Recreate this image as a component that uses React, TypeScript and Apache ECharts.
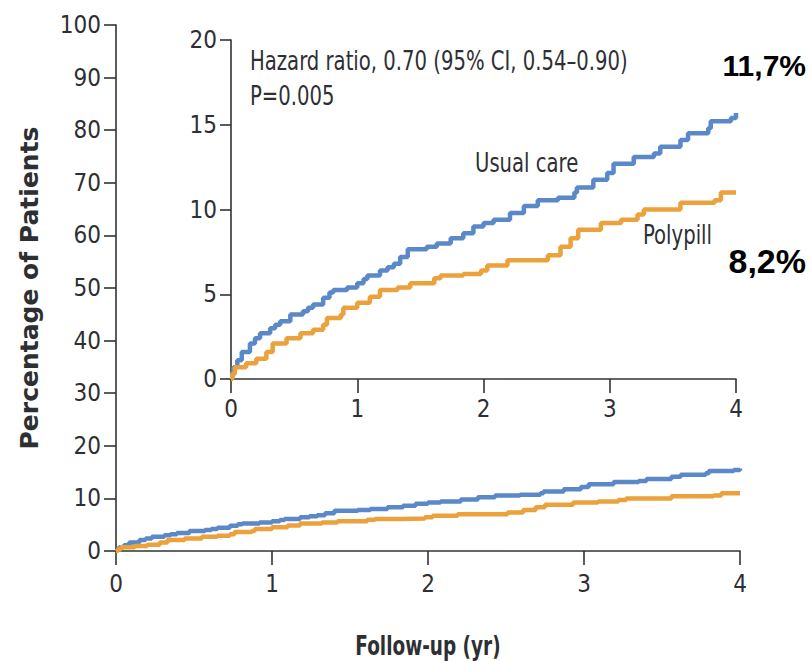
import React, { useEffect, useRef } from "react";
import * as echarts from "echarts";

// Cumulative incidence (%) by follow-up year, Kaplan-Meier style steps
const usualCareYears = [
  0, 0.01, 0.02, 0.05, 0.085, 0.15, 0.19, 0.23, 0.31, 0.35, 0.39, 0.47, 0.57, 0.61,
  0.65, 0.73, 0.78, 0.81, 0.92, 1.0, 1.05, 1.08, 1.18, 1.24, 1.29, 1.34, 1.4, 1.55,
  1.63, 1.74, 1.84, 1.92, 2.0, 2.08, 2.21, 2.32, 2.43, 2.59, 2.72, 2.74, 2.87, 2.98,
  3.03, 3.19, 3.35, 3.4, 3.56, 3.62, 3.78, 3.8, 3.96, 4.0,
];
const usualCareRates = [
  0, 0.4, 0.7, 1.1, 1.6, 2.1, 2.4, 2.7, 3.0, 3.2, 3.4, 3.8, 4.0, 4.2,
  4.4, 4.8, 5.1, 5.25, 5.4, 5.65, 5.9, 6.1, 6.4, 6.6, 6.8, 7.2, 7.65, 7.8,
  8.0, 8.3, 8.6, 9.0, 9.2, 9.4, 9.8, 10.2, 10.55, 10.7, 11.0, 11.3, 11.75, 12.15,
  12.7, 13.1, 13.3, 13.7, 14.1, 14.5, 14.8, 15.2, 15.4, 15.7,
];

const polypillYears = [
  0, 0.01, 0.03, 0.12, 0.2, 0.28, 0.33, 0.44, 0.55, 0.65, 0.73, 0.76, 0.87, 0.89,
  1.0, 1.1, 1.18, 1.32, 1.42, 1.61, 1.66, 1.84, 1.98, 2.03, 2.19, 2.51, 2.61, 2.69,
  2.75, 2.93, 3.09, 3.22, 3.27, 3.56, 3.83, 3.88, 4.0,
];
const polypillRates = [
  0, 0.3, 0.7, 0.93, 1.2, 1.6, 2.1, 2.4, 2.7, 2.9, 3.2, 3.6, 3.8, 4.2,
  4.5, 4.85, 5.25, 5.4, 5.65, 5.95, 6.1, 6.2, 6.4, 6.7, 7.0, 7.3, 7.8, 8.3,
  8.8, 9.2, 9.4, 9.7, 10.0, 10.4, 10.55, 11.0, 11.0,
];

const mainYTicks = { min: 0, max: 100, interval: 10 };
const insetYTicks = { min: 0, max: 20, interval: 5 };
const yearAxis = { min: 0, max: 4, interval: 1 };

const xAxisTitle = "Follow-up (yr)";
const yAxisTitle = "Percentage of Patients";
const hazardText = "Hazard ratio, 0.70 (95% CI, 0.54\u20130.90)";
const pValueText = "P=0.005";
const usualCareLabel = "Usual care";
const polypillLabel = "Polypill";
const usualCareRateLabel = "11,7%";
const polypillRateLabel = "8,2%";

const BLUE = "#5b88c8";
const ORANGE = "#eba13c";
const AXIS = "#333333";
const TEXT = "#2e2f33";
const NARROW = "'DejaVu Sans Condensed', 'Liberation Sans', sans-serif";
const SQUEEZE = 0.84;

const pairs = (xs: number[], ys: number[]) => xs.map((x, i) => [x, ys[i]]);

export default function App() {
  const ref = useRef<HTMLDivElement>(null);

  useEffect(() => {
    if (!ref.current) return;
    const chart = echarts.init(ref.current, undefined, { renderer: "svg" });

    const axisLine = { show: true, lineStyle: { color: AXIS, width: 1.6 } };
    const tickStyle = { color: AXIS, width: 1.6 };
    const labelStyle = { color: TEXT, fontFamily: NARROW, fontSize: 24 };

    const xAxisBase = (gridIndex: number, tickLen: number, margin: number) => ({
      type: "value" as const,
      gridIndex,
      ...yearAxis,
      axisLine,
      axisTick: { show: true, length: tickLen, lineStyle: tickStyle },
      axisLabel: { ...labelStyle, margin },
      splitLine: { show: false },
    });

    const yAxisBase = (gridIndex: number, ticks: any, tickLen: number, margin: number) => ({
      type: "value" as const,
      gridIndex,
      ...ticks,
      axisLine,
      axisTick: { show: true, length: tickLen, lineStyle: tickStyle },
      axisLabel: { ...labelStyle, margin },
      splitLine: { show: false },
    });

    const stepSeries = (name: string, data: number[][], color: string, idx: number) => ({
      name,
      type: "line" as const,
      step: "end" as const,
      xAxisIndex: idx,
      yAxisIndex: idx,
      data,
      symbol: "none",
      lineStyle: { color, width: 4.5 },
      itemStyle: { color },
    });

    const note = (text: string, x: number, y: number, scaleX = SQUEEZE, extra: any = {}) => ({
      type: "text",
      x,
      y,
      scaleX,
      style: {
        text,
        fill: TEXT,
        font: `26px ${NARROW}`,
        textVerticalAlign: "middle",
        ...extra,
      },
    });

    const usual = pairs(usualCareYears, usualCareRates);
    const poly = pairs(polypillYears, polypillRates);

    chart.setOption({
      animation: false,
      backgroundColor: "#ffffff",
      grid: [
        { left: 116, right: 72, top: 25, bottom: 110 },
        { left: 231, right: 76, top: 40, bottom: 282 },
      ],
      xAxis: [xAxisBase(0, 14, 21), xAxisBase(1, 14, 18)],
      yAxis: [
        {
          ...yAxisBase(0, mainYTicks, 12, 15),
          name: yAxisTitle,
          nameLocation: "middle",
          nameGap: 74,
          nameTextStyle: {
            color: TEXT,
            fontFamily: "'DejaVu Sans', sans-serif",
            fontSize: 25,
            fontWeight: "bold",
          },
        },
        yAxisBase(1, insetYTicks, 11, 14),
      ],
      series: [
        stepSeries("Usual care", usual, BLUE, 0),
        stepSeries("Polypill", poly, ORANGE, 0),
        stepSeries("Usual care inset", usual, BLUE, 1),
        stepSeries("Polypill inset", poly, ORANGE, 1),
      ],
      graphic: [
        note(hazardText, 250, 61),
        note(pValueText, 250, 96),
        note(usualCareLabel, 475, 163),
        note(polypillLabel, 643, 235),
        note(xAxisTitle, 428, 646, 0.76, { textAlign: "center", font: `bold 27px ${NARROW}` }),
        {
          type: "text",
          right: 6,
          top: 50,
          style: {
            text: usualCareRateLabel,
            fill: "#000000",
            font: "bold 30px 'Liberation Sans', Arial, sans-serif",
          },
        },
        {
          type: "text",
          right: 6,
          top: 244,
          style: {
            text: polypillRateLabel,
            fill: "#000000",
            font: "bold 34px 'Liberation Sans', Arial, sans-serif",
          },
        },
      ],
    });

    return () => chart.dispose();
  }, []);

  return (
    <div
      ref={ref}
      style={{ position: "fixed", left: 0, top: 0, width: 812, height: 661, background: "#fff" }}
    />
  );
}
